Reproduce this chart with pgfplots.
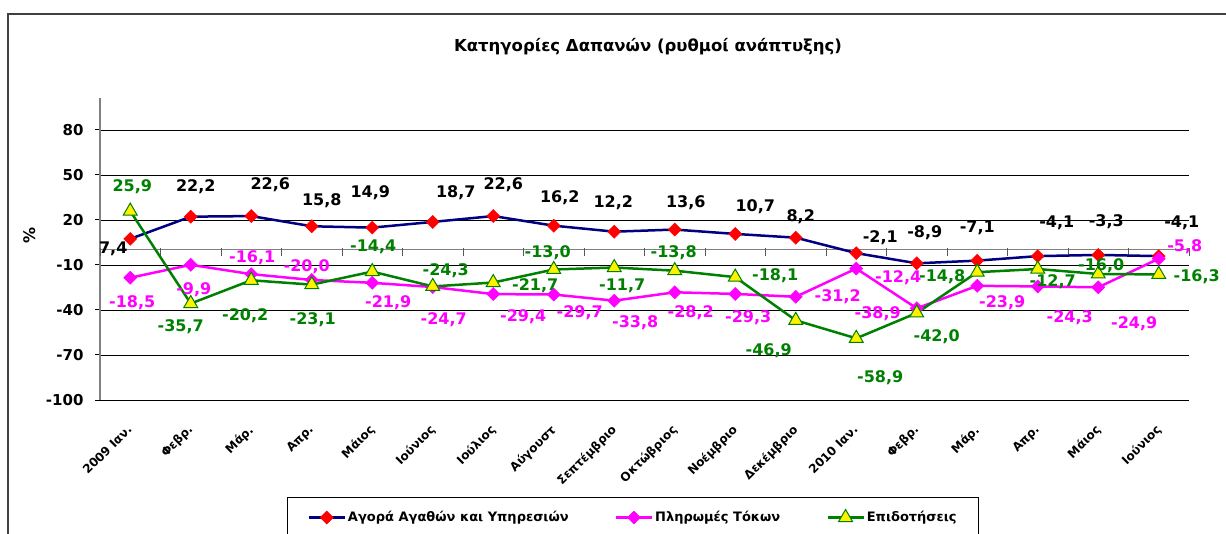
\documentclass[border=0pt]{standalone}
\usepackage{pgfplots}
\pgfplotsset{compat=1.18}
\usepackage{pgfplotstable}
\usepackage{fontspec}
\setmainfont{DejaVu Sans}

\definecolor{navyline}{HTML}{000080}
\definecolor{pinkline}{HTML}{FF00FF}
\definecolor{greenline}{HTML}{008000}
\definecolor{frame}{HTML}{404040}

% x y dx dy  (dx, dy: where the value label sits, in pt)
\pgfplotstableread{
x y dx dy
0 7.4 -17 -10
1 22.2 5 30
2 22.6 19 31
3 15.8 10 26
4 14.9 -2 35
5 18.7 23 29
6 22.6 10 31
7 16.2 6 28
8 12.2 -1 29
9 13.6 11 27
10 10.7 20 27
11 8.2 5 21
12 -2.1 24 15
13 -8.9 8 31
14 -7.1 0 33
15 -4.1 19 33
16 -3.3 8 33
17 -4.1 23 33
}\agora

\pgfplotstableread{
x y dx dy
0 -18.5 2 -25
1 -9.9 3 -25
2 -16.1 1 16
3 -20.0 -5 13
4 -21.9 16 -20
5 -24.7 11 -33
6 -29.4 30 -23
7 -29.7 26 -18
8 -33.8 21 -22
9 -28.2 16 -20
10 -29.3 13 -24
11 -31.2 42 0
12 -12.4 42 -9
13 -38.9 -39 -5
14 -23.9 25 -17
15 -24.3 32 -31
16 -24.9 36 -36
17 -5.8 26 12
}\tokoi

\pgfplotstableread{
x y dx dy
0 25.9 2 24
1 -35.7 -10 -23
2 -20.2 -6 -35
3 -23.1 1 -35
4 -14.4 1 25
5 -24.3 13 16
6 -21.7 42 -3
7 -13.0 -6 17
8 -11.7 8 -18
9 -13.8 -1 18
10 -18.1 40 1
11 -46.9 -27 -30
12 -58.9 24 -39
13 -42.0 20 -24
14 -14.8 -35 -5
15 -12.7 15 -13
16 -16.0 3 8
17 -16.3 38 -2
}\epidot

\pgfplotsset{
  lbl/.style={
    point meta=y,
    nodes near coords={\pgfmathprintnumber[fixed,fixed zerofill,precision=1,use comma,assume math mode=true]{\pgfplotspointmeta}},
    visualization depends on={\thisrow{dx}\as\ldx},
    visualization depends on={\thisrow{dy}\as\ldy},
    nodes near coords style={font=\bfseries\fontsize{16}{18}\selectfont, text=#1,
      anchor=center, inner sep=0pt, xshift=\ldx pt, yshift=\ldy pt},
  },
}

\begin{document}
\begin{tikzpicture}[x=1pt,y=1pt]
\useasboundingbox (0,0) rectangle (1226,-534);
\draw[frame, line width=2pt] (8,-540) -- (8,-14) -- (1230,-14);
\node[font=\bfseries\fontsize{16.5}{18}\selectfont] at (648,-47) {Κατηγορίες Δαπανών (ρυθμοί ανάπτυξης)};
\node[rotate=90, font=\bfseries\fontsize{16}{18}\selectfont] at (30,-235) {\%};

\begin{axis}[
  at={(100pt,-400pt)}, anchor=south west,
  scale only axis, width=1089pt, height=302pt,
  xmin=-0.5, xmax=17.5, ymin=-100, ymax=101.3,
  axis x line*=bottom, axis y line*=left,
  x axis line style={black, line width=1pt},
  y axis line style={gray, line width=1.2pt},
  ytick={-100,-70,...,80},
  ymajorgrids, grid style={black, line width=0.9pt},
  xtick={0,...,17},
  xticklabels={2009 Ιαν.,Φεβρ.,Μάρ.,Απρ.,Μάιος,Ιούνιος,Ιούλιος,Αύγουστ,Σεπτέμβριο,Οκτώβριος,Νοέμβριο,Δεκέμβριο,2010 Ιαν.,Φεβρ.,Μάρ.,Απρ.,Μάιος,Ιούνιος},
  x tick style={draw=none},
  y tick style={black, line width=1pt},
  tick align=outside, major tick length=5pt,
  yticklabel style={font=\bfseries\fontsize{15}{17}\selectfont, xshift=-8pt},
  /pgf/number format/assume math mode=true,
  xticklabel style={font=\bfseries\fontsize{12}{14}\selectfont, xshift=-4pt, yshift=-14pt, rotate=45, anchor=north east},
  clip=false,
  legend columns=3,
  legend style={at={(0.1717,-0.3212)}, anchor=north west, draw=black, line width=1pt,
    font=\bfseries\fontsize{13}{15}\selectfont, inner xsep=20pt, inner ysep=12pt,
    /tikz/every even column/.append style={column sep=44pt}},
  legend image code/.code={\draw[mark repeat=2, mark phase=2, #1] plot coordinates {(0pt,0pt) (18pt,0pt) (36pt,0pt)};},
]
\draw[gray, line width=1pt] (axis cs:-0.5,0) -- (axis cs:17.5,0);
\pgfplotsinvokeforeach{-0.5,0.5,...,17.5}{\draw[gray!70!black, line width=1pt] (axis cs:#1,1) -- (axis cs:#1,-4);}

\addplot[navyline, line width=2.5pt, mark=square*, mark size=4.6pt,
  mark options={rotate=45, fill=red, draw=red, line width=0.5pt}, lbl=black]
  table[x=x, y=y] {\agora};
\addlegendentry{Αγορά Αγαθών και Υπηρεσιών}

\addplot[pinkline, line width=2.5pt, mark=square*, mark size=4.6pt,
  mark options={rotate=45, fill=pinkline, draw=pinkline, line width=0.5pt}, lbl=pinkline]
  table[x=x, y=y] {\tokoi};
\addlegendentry{Πληρωμές Τόκων}

\addplot[greenline, line width=2.5pt, mark=triangle*, mark size=8pt,
  mark options={fill=yellow, draw=greenline, line width=1pt}, lbl=greenline]
  table[x=x, y=y] {\epidot};
\addlegendentry{Επιδοτήσεις}
\end{axis}
\end{tikzpicture}
\end{document}
